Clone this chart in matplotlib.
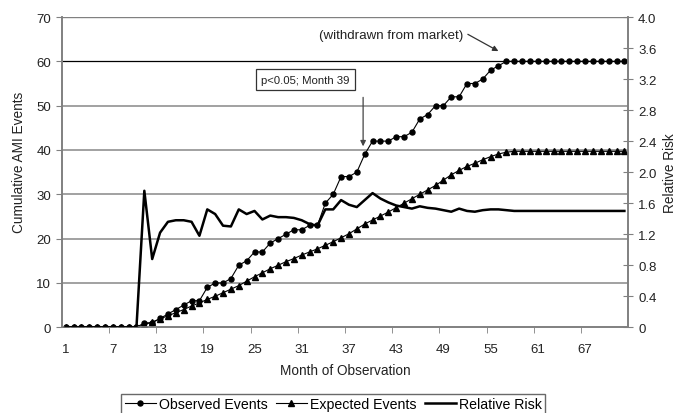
import numpy as np
import matplotlib
matplotlib.use("Agg")
import matplotlib.pyplot as plt
from matplotlib.lines import Line2D

plt.rcParams["font.family"] = ["Liberation Sans", "DejaVu Sans"]

# Data (months 1..72)
months = np.arange(1, 73)
observed = [0] * 10 + [1, 1, 2, 3, 4, 5, 6, 6, 9, 10, 10, 11, 14, 15, 17, 17, 19, 20, 21, 22,
                       22, 23, 23, 28, 30, 34, 34, 35, 39, 42, 42, 42, 43, 43, 44, 47, 48, 50, 50, 52,
                       52, 55, 55, 56, 58, 59] + [60] * 16
expected = [0] * 10 + [0.6, 1.2, 1.9, 2.6, 3.3, 4.0, 4.8, 5.5, 6.3, 7.0, 7.8, 8.6, 9.4, 10.4, 11.4,
                       12.3, 13.2, 14.0, 14.8, 15.5, 16.3, 17.0, 17.7, 18.5, 19.3, 20.2, 21.1, 22.2,
                       23.3, 24.2, 25.1, 26.0, 27.0, 28.0, 29.0, 30.0, 31.0, 32.0, 33.2, 34.4, 35.4,
                       36.3, 37.0, 37.8, 38.5, 39.1, 39.5] + [39.7] * 15
rel_risk = [0] * 10 + [1.76, 0.88, 1.22, 1.36, 1.38, 1.38, 1.36, 1.18, 1.52, 1.46, 1.31, 1.30, 1.52,
                       1.46, 1.50, 1.39, 1.44, 1.42, 1.42, 1.41, 1.38, 1.33, 1.31, 1.52, 1.52, 1.64,
                       1.58, 1.55, 1.64, 1.73, 1.66, 1.61, 1.57, 1.55, 1.53, 1.56, 1.54, 1.53, 1.51,
                       1.49, 1.53, 1.50, 1.49, 1.51, 1.52, 1.52, 1.51] + [1.50] * 15

xtick_labels = list(range(1, 68, 6))
left_ticks = list(range(0, 71, 10))
right_ticks = [0, 0.4, 0.8, 1.2, 1.6, 2.0, 2.4, 2.8, 3.2, 3.6, 4.0]

fig = plt.figure(figsize=(6.84, 4.14), dpi=100)
ax = fig.add_axes([0.0902, 0.207, 0.8284, 0.7495])
ax2 = ax.twinx()

axis_grey = "#808080"
text_col = "#222222"

# gridlines
for v in left_ticks[1:-1]:
    if v == 60:
        ax.axhline(v, color="black", lw=0.9, zorder=1)
    else:
        ax.axhline(v, color="#9a9a9a", lw=1.3, zorder=1)
ax.axhline(70, color=axis_grey, lw=1.0, zorder=1)

ax.plot(months, observed, color="black", lw=0.8, marker="o", ms=3.6, zorder=3)
ax.plot(months, expected, color="black", lw=0.8, marker="^", ms=4.0, zorder=3)
ax2.plot(months, rel_risk, color="black", lw=1.8, zorder=3)

ax.set_xlim(0.5, 72.5)
ax.set_ylim(0, 70)
ax2.set_ylim(0, 4.0)

ax.set_xticks(xtick_labels)
ax.set_xticklabels([str(m) for m in xtick_labels])
ax.set_xticks(np.arange(6.5, 72, 6), minor=True)
ax.tick_params(axis="x", which="major", length=0, pad=11, labelsize=9.5, colors=text_col)
ax.tick_params(axis="x", which="minor", length=4, direction="out", color=axis_grey)
ax.set_yticks(left_ticks)
ax.tick_params(axis="y", length=4, direction="out", color=axis_grey, labelsize=9.5, labelcolor=text_col)
ax2.set_yticks(right_ticks)
ax2.set_yticklabels(["0" if t == 0 else f"{t:.1f}" for t in right_ticks])
ax2.tick_params(axis="y", length=7, direction="inout", color=axis_grey, labelsize=9.5, labelcolor=text_col)

for a in (ax, ax2):
    for s in a.spines.values():
        s.set_color(axis_grey)
        s.set_linewidth(1.2)
ax2.spines["top"].set_visible(False)
ax.spines["top"].set_visible(False)

ax.set_xlabel("Month of Observation", fontsize=9.8, color=text_col, labelpad=6)
ax.set_ylabel("Cumulative AMI Events", fontsize=9.8, color=text_col)
ax.yaxis.set_label_coords(-0.063, 0.535)
ax2.set_ylabel("Relative Risk", fontsize=9.8, color=text_col, labelpad=5)

# annotations
ax.annotate("", xy=(38.8, 40.2), xytext=(38.8, 52.5),
            arrowprops=dict(arrowstyle="-|>", color="#444444", lw=0.9, mutation_scale=8))
ax.text(31.5, 55.9, "p<0.05; Month 39", fontsize=8.2, ha="center", va="center", color=text_col,
        bbox=dict(boxstyle="square,pad=0.45", fc="white", ec="#333333", lw=0.9))
ax.text(42.4, 66.0, "(withdrawn from market)", fontsize=9.6, ha="center", va="center", color=text_col)
ax.annotate("", xy=(56.3, 62.0), xytext=(51.8, 66.4),
            arrowprops=dict(arrowstyle="-|>", color="#333333", lw=0.9, mutation_scale=8))

handles = [
    Line2D([], [], color="black", lw=0.8, marker="o", ms=3.6),
    Line2D([], [], color="black", lw=0.8, marker="^", ms=4.0),
    Line2D([], [], color="black", lw=1.8),
]
leg = fig.legend(handles, ["Observed Events", "Expected Events", "Relative Risk"],
                 loc="upper center", bbox_to_anchor=(0.487, 0.064), ncol=3, fontsize=10.2,
                 frameon=True, fancybox=False, edgecolor="#444444", handlelength=2.2,
                 handletextpad=0.2, columnspacing=0.6, borderpad=0.25)
leg.get_frame().set_linewidth(1.0)

fig.savefig("out.png", dpi=100)
